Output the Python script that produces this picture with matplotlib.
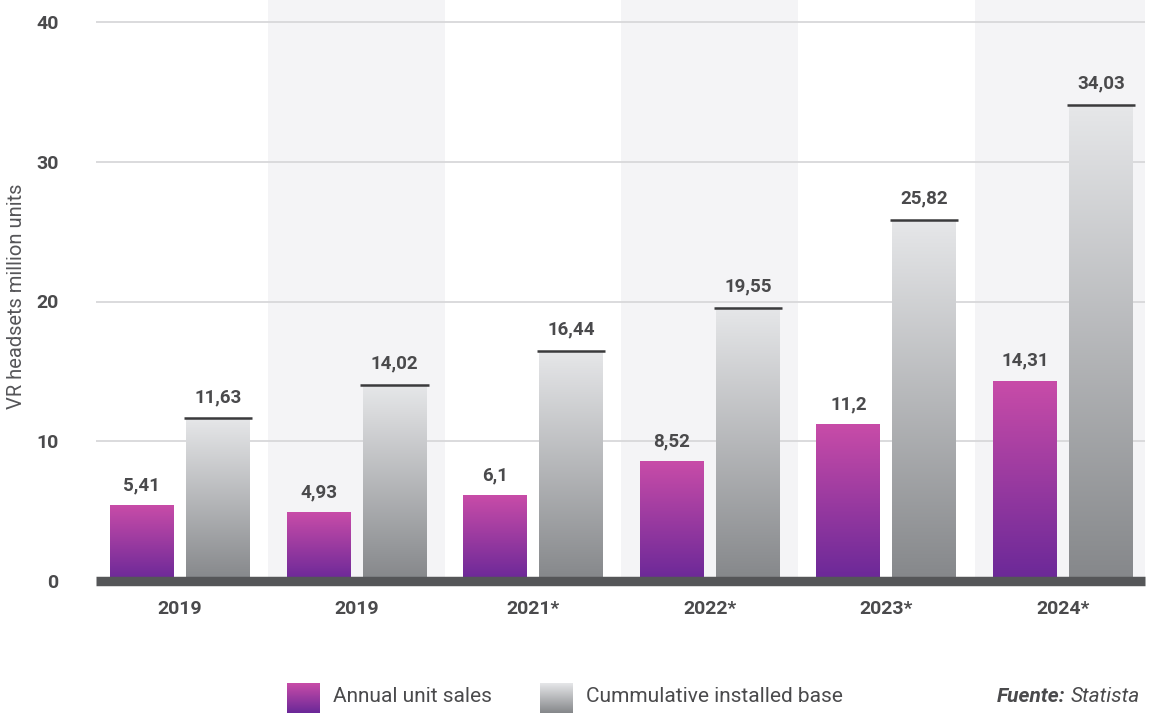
import numpy as np
import matplotlib
matplotlib.use("Agg")
import matplotlib.pyplot as plt
from matplotlib.colors import LinearSegmentedColormap

# VR headset market, million units
years = ["2019", "2019", "2021*", "2022*", "2023*", "2024*"]
annual_sales = [5.41, 4.93, 6.1, 8.52, 11.2, 14.31]
installed_base = [11.63, 14.02, 16.44, 19.55, 25.82, 34.03]

plt.rcParams["font.family"] = ["Roboto", "DejaVu Sans"]
TEXT = "#4a4a4c"

purple_cmap = LinearSegmentedColormap.from_list("purple", ["#6a2898", "#c84ca8"])
gray_cmap = LinearSegmentedColormap.from_list("gray", ["#85878a", "#e6e7e9"])
ramp = np.linspace(0, 1, 256).reshape(-1, 1)


def gradient_bar(ax, x, w, h, cmap):
    ax.imshow(ramp, extent=[x - w / 2, x + w / 2, 0, h], origin="lower",
              aspect="auto", cmap=cmap, zorder=2, interpolation="bilinear")


def fmt(v):
    return f"{v:g}".replace(".", ",")


W, H = 1151, 713
fig = plt.figure(figsize=(W / 100, H / 100), dpi=100)
ax = fig.add_axes([96 / W, (H - 581) / H, (1145 - 96) / W, 581 / H])

x = np.arange(len(years))
bw = 0.362
off = 0.215

# alternating column bands
for i in x:
    if i % 2 == 1:
        ax.axvspan(i - 0.5, i + 0.5, color="#f4f4f6", zorder=0, lw=0)

for yv in [10, 20, 30, 40]:
    ax.axhline(yv, color="#d8d8da", lw=1.3, zorder=1)

for i in x:
    gradient_bar(ax, i - off, bw, annual_sales[i], purple_cmap)
    gradient_bar(ax, i + off, bw, installed_base[i], gray_cmap)
    # dark cap on the cumulative bars
    ax.plot([i + off - bw / 2 - 0.012, i + off + bw / 2 + 0.012],
            [installed_base[i]] * 2, color="#3a3a3c", lw=1.8, zorder=3,
            solid_capstyle="butt")
    ax.annotate(fmt(annual_sales[i]), (i - off, annual_sales[i]),
                xytext=(0, 8), textcoords="offset points", ha="center",
                va="bottom", fontsize=13.5, color=TEXT, fontweight="bold")
    ax.annotate(fmt(installed_base[i]), (i + off, installed_base[i]),
                xytext=(0, 9), textcoords="offset points", ha="center",
                va="bottom", fontsize=13.5, color=TEXT, fontweight="bold")

# thick baseline
ax.axhline(0, color="#555658", lw=6.8, zorder=4, clip_on=False,
           solid_capstyle="butt")

ax.set_xlim(-0.475, 5.464)
ax.set_ylim(0, 40 + 22 * 40 / 559)
ax.set_yticks([0, 10, 20, 30, 40])
ax.set_yticklabels(["0", "10", "20", "30", "40"], fontsize=14,
                   color=TEXT, fontweight="bold")
ax.set_xticks(x)
ax.set_xticklabels(years, fontsize=14, color=TEXT, fontweight="bold")
ax.tick_params(axis="y", length=0, pad=27)
ax.tick_params(axis="x", length=0, pad=14)
for s in ax.spines.values():
    s.set_visible(False)
ax.set_ylabel("VR headsets million units", fontsize=14.5, color="#555558")
ax.yaxis.set_label_coords(-0.067, 0.49)

# legend swatches with the same gradients
for left, cmap, label in [(287, purple_cmap, "Annual unit sales"),
                          (540, gray_cmap, "Cummulative installed base")]:
    sw = fig.add_axes([left / W, 0, 33 / W, 30 / H])
    sw.imshow(ramp, origin="lower", aspect="auto", cmap=cmap,
              extent=[0, 1, 0, 1])
    sw.axis("off")
    fig.text((left + 46) / W, (H - 697) / H, label, fontsize=15,
             color=TEXT, va="center", ha="left")

src = fig.text(1140 / W, (H - 697) / H, "Statista", fontsize=15, color=TEXT,
               va="center", ha="right", style="italic")
renderer = fig.canvas.get_renderer()
x0 = src.get_window_extent(renderer).x0
fig.text((x0 - 5) / W, (H - 697) / H, "Fuente:", fontsize=15, color=TEXT,
         va="center", ha="right", style="italic", fontweight="bold")

fig.savefig("out.png", dpi=100)
